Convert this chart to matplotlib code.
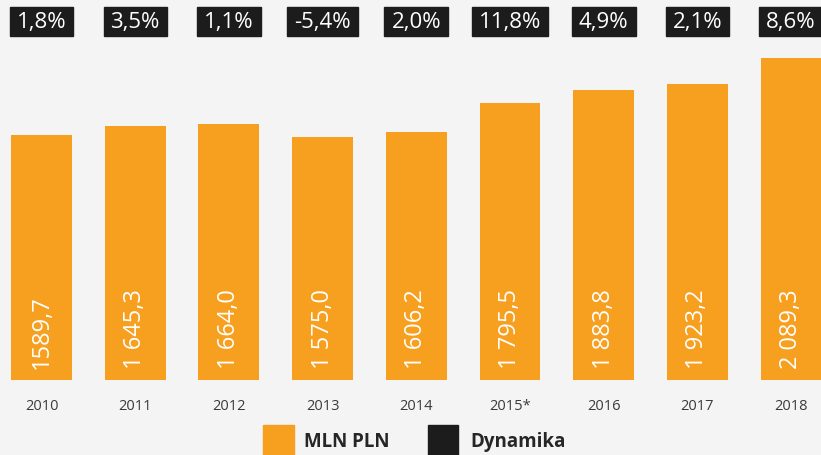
import matplotlib
matplotlib.use("Agg")
import matplotlib.pyplot as plt
from matplotlib.patches import Rectangle
from matplotlib.transforms import IdentityTransform

plt.rcParams['font.family'] = ['Open Sans', 'DejaVu Sans']

# data
years = ["2010", "2011", "2012", "2013", "2014", "2015*", "2016", "2017", "2018"]
mln_pln = [1589.7, 1645.3, 1664.0, 1575.0, 1606.2, 1795.5, 1883.8, 1923.2, 2089.3]
value_labels = ["1589,7", "1 645,3", "1 664,0", "1 575,0", "1 606,2",
                "1 795,5", "1 883,8", "1 923,2", "2 089,3"]
dynamika = ["1,8%", "3,5%", "1,1%", "-5,4%", "2,0%", "11,8%", "4,9%", "2,1%", "8,6%"]

# colours
bg = "#f4f4f4"
orange = "#f79f1f"
dark = "#1c1c1c"

W, H = 821, 455
fig = plt.figure(figsize=(W / 100, H / 100), dpi=100, facecolor=bg)
ax = fig.add_axes([0, 0, 1, 1])
ax.set_facecolor(bg)
ax.axis("off")

# pixel-matched scales: bar baseline at y=380 px, 0.1541 px per unit
px_per_unit = 0.1541
base_px = 380
ax.set_ylim(-(H - base_px) / px_per_unit, base_px / px_per_unit)
pitch = 93.7
x0 = 41.5
ax.set_xlim(-x0 / pitch, (W - x0) / pitch)

xs = list(range(len(years)))
ax.bar(xs, mln_pln, width=0.651, color=orange, zorder=2)

def py(pix):
    # pixel from top -> data y
    return (base_px - pix) / px_per_unit

for x, lab in zip(xs, value_labels):
    ax.text(x, py(369), lab, rotation=90, ha="center", va="bottom",
            color="white", fontsize=17, zorder=3)

for x, yr in zip(xs, years):
    ax.text(x, py(406), yr, ha="center", va="center",
            color="#3a3a3a", fontsize=10.5)

# percentage tags: text first, then a dark box sized from its extent
renderer = fig.canvas.get_renderer()
for x, d in zip(xs, dynamika):
    t = ax.text(x, py(22), d, ha="center", va="center", color="white",
                fontsize=16, zorder=5)
    bb = t.get_window_extent(renderer)
    pad = 7
    ax.add_patch(Rectangle((bb.x0 - pad, H - 36), bb.width + 2 * pad, 29,
                           transform=IdentityTransform(), color=dark,
                           zorder=4, clip_on=False))

# legend
fig.add_artist(Rectangle((263 / W, 0), 31 / W, 30 / H, transform=fig.transFigure,
                         color=orange))
fig.text(304 / W, 1 - 442 / H, "MLN PLN", ha="left", va="center",
         fontsize=13.5, fontweight="bold", color="#262626")
fig.add_artist(Rectangle((428 / W, 0), 30 / W, 30 / H, transform=fig.transFigure,
                         color=dark))
fig.text(470 / W, 1 - 442 / H, "Dynamika", ha="left", va="center",
         fontsize=13.5, fontweight="bold", color="#262626")

fig.savefig("out.png", dpi=100, facecolor=bg)
